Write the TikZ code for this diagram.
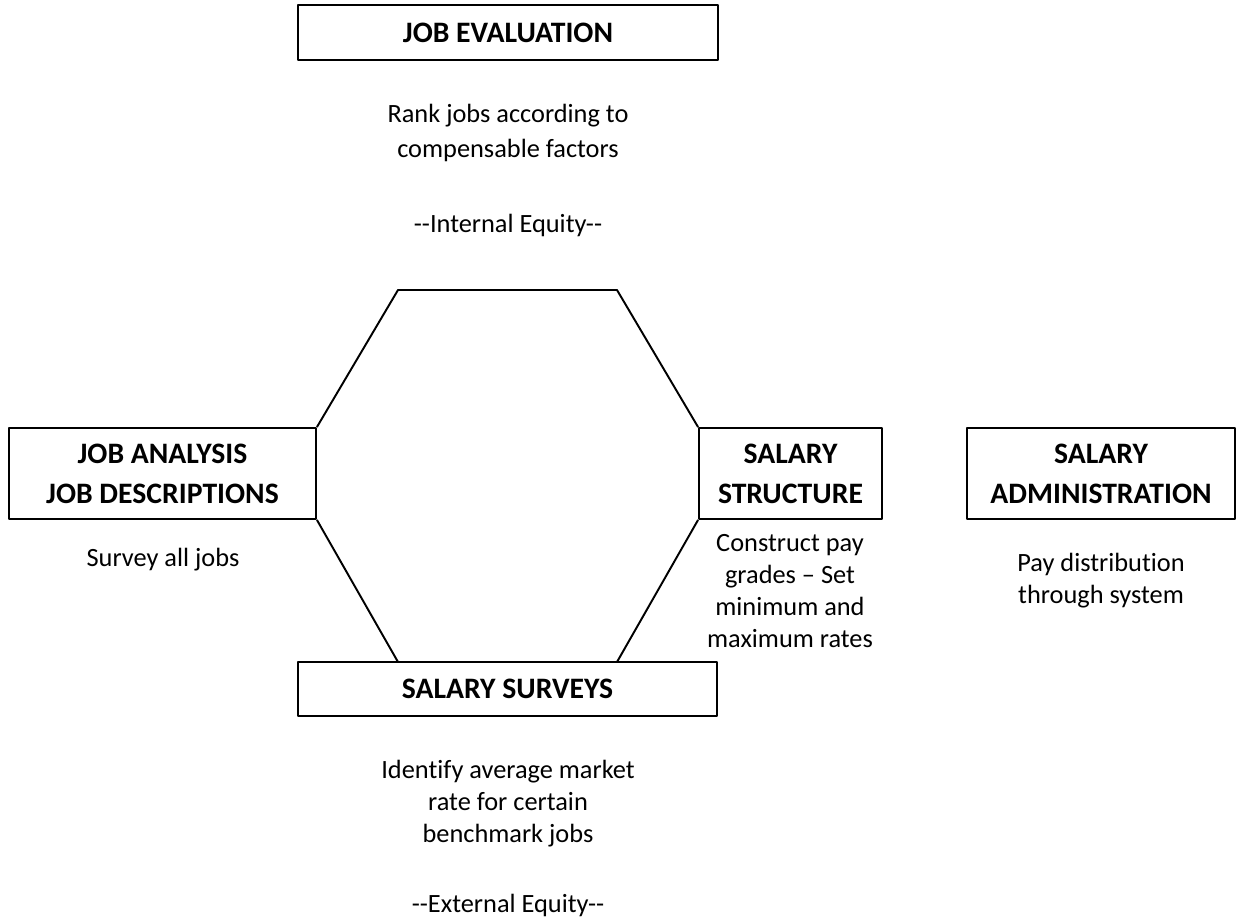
\documentclass[tikz,border=0pt]{standalone}
\usepackage{fontspec}
\setmainfont{Carlito}[Ligatures=NoCommon]
\tikzset{
  stagebox/.style = {draw=black, line width=1.1pt, align=center, inner sep=0pt,
    font=\bfseries\fontsize{16.9}{22.7}\selectfont, minimum height=1.82cm},
  note/.style = {align=center, inner sep=0pt, anchor=base,
    font=\fontsize{15}{18.1}\selectfont},
}
\begin{document}
\begin{tikzpicture}[x=0.02cm,y=-0.02cm,line width=1.1pt,line join=round]
\useasboundingbox (0,0) rectangle (1242,922);
% stages
\node [stagebox, minimum width=8.4cm, minimum height=1.1cm] (eval) at (508,32.5) {JOB EVALUATION};
\node [stagebox, minimum width=6.14cm] (ana) at (162.5,473.5) {JOB ANALYSIS\\JOB DESCRIPTIONS};
\node [stagebox, minimum width=3.66cm] (str) at (790.5,473.5) {SALARY\\STRUCTURE};
\node [stagebox, minimum width=5.36cm] (adm) at (1101,473.5) {SALARY\\ADMINISTRATION};
\node [stagebox, minimum width=8.38cm, minimum height=1.08cm] (surv) at (507.5,689) {SALARY SURVEYS};
% notes (placed at the baseline of their last line)
\node [note, font=\fontsize{15}{20.4}\selectfont] (evalnote) at (508,158) {Rank jobs according to\\compensable factors};
\node [note] (inteq) at (508,233) {-{}-Internal Equity-{}-};
\node [note] (ananote) at (163,566) {Survey all jobs};
\node [note] (strnote) at (790,647) {Construct pay\\grades \textendash{} Set\\minimum and\\maximum rates};
\node [note] (admnote) at (1101,603) {Pay distribution\\through system};
\node [note] (survnote) at (508,842) {Identify average market\\rate for certain\\benchmark jobs};
\node [note] (exteq) at (508,912) {-{}-External Equity-{}-};
% hexagon
\coordinate (tl) at (398,290);
\coordinate (tr) at (617,290);
\coordinate (bl) at (398,662);
\coordinate (br) at (617,662);
\draw (ana.north east) -- (tl) -- (tr) -- (str.north west);
\draw (ana.south east) -- (bl);
\draw (str.south west) -- (br);
\end{tikzpicture}
\end{document}
